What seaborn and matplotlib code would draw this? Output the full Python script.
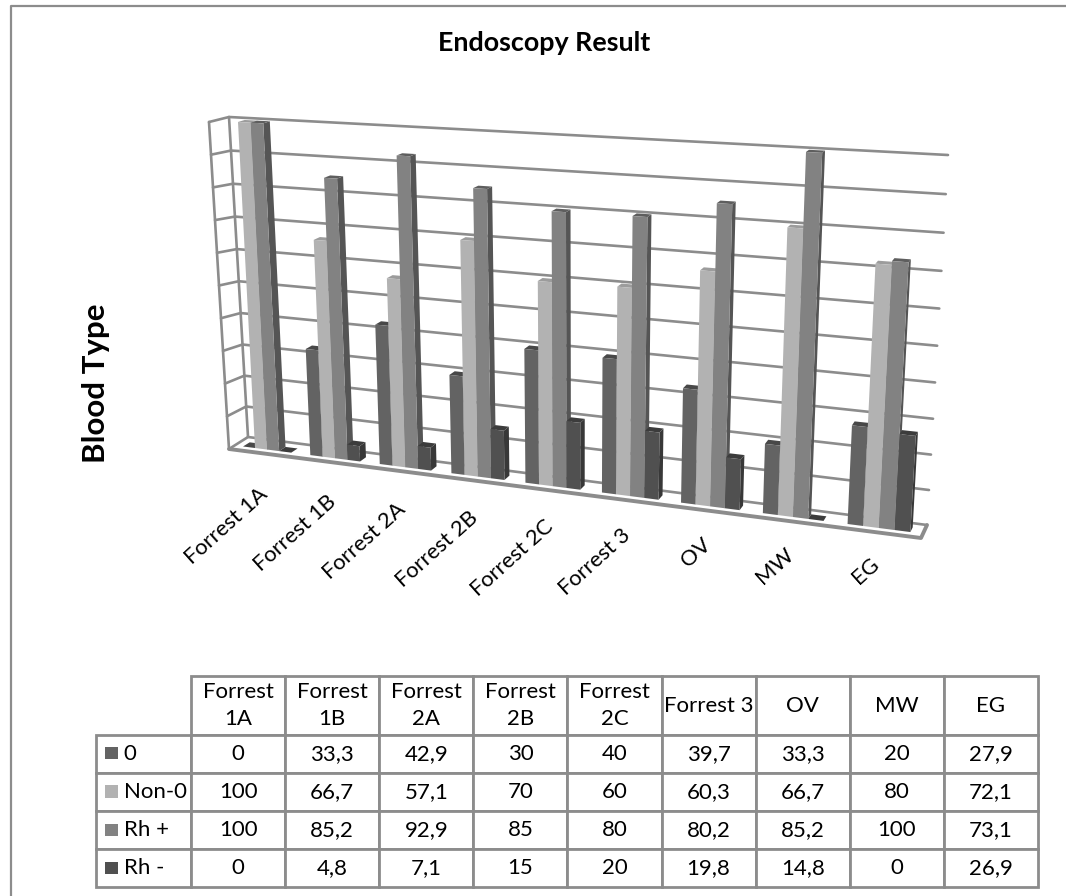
import numpy as np
import pandas as pd
import matplotlib
matplotlib.use("Agg")
import matplotlib.pyplot as plt
import seaborn as sns
from matplotlib.patches import Polygon, Rectangle
from matplotlib.transforms import Affine2D, Transform

W, H = 1066, 896

categories = ["Forrest 1A", "Forrest 1B", "Forrest 2A", "Forrest 2B", "Forrest 2C",
              "Forrest 3", "OV", "MW", "EG"]
column_heads = ["Forrest\n1A", "Forrest\n1B", "Forrest\n2A", "Forrest\n2B", "Forrest\n2C",
                "Forrest 3", "OV", "MW", "EG"]
series_names = ["0", "Non-0", "Rh +", "Rh -"]
type_0 = [0, 33.3, 42.9, 30, 40, 39.7, 33.3, 20, 27.9]
non_0 = [100, 66.7, 57.1, 70, 60, 60.3, 66.7, 80, 72.1]
rh_pos = [100, 85.2, 92.9, 85, 80, 80.2, 85.2, 100, 73.1]
rh_neg = [0, 4.8, 7.1, 15, 20, 19.8, 14.8, 0, 26.9]
series_values = [type_0, non_0, rh_pos, rh_neg]

front_colors = ["#636363", "#b2b2b2", "#828282", "#505050"]
side_colors = ["#484848", "#8e8e8e", "#555555", "#383838"]
top_colors = ["#484848", "#9c9c9c", "#5e5e5e", "#3c3c3c"]
line_color = "#8c8c8c"


def homography(src, dst):
    # solve the 3x3 matrix taking four (x, y) points onto four others
    rows = []
    for (x, y), (u, v) in zip(src, dst):
        rows.append([x, y, 1, 0, 0, 0, -u * x, -u * y, -u])
        rows.append([0, 0, 0, x, y, 1, -v * x, -v * y, -v])
    return np.linalg.svd(np.array(rows))[2][-1].reshape(3, 3)


class Perspective(Transform):
    input_dims = 2
    output_dims = 2

    def __init__(self, matrix):
        super().__init__()
        self.matrix = matrix

    def transform_non_affine(self, values):
        values = np.asarray(values, dtype=float)
        full = np.column_stack([values, np.ones(len(values))]) @ self.matrix.T
        return full[:, :2] / full[:, 2:]


# the bars stand on one plane, the gridlines on the back wall
bar_plane = Perspective(homography(
    [(-0.18, 100), (-0.18, 0), (7, 100), (7, 0)],
    [(238, 122), (255, 448), (806, 152), (793, 517)]))
back_wall = Perspective(homography(
    [(-0.5, 0), (-0.5, 100), (8.5, 100), (8.5, 0)],
    [(248, 437), (229, 117), (948, 155), (927, 525)]))
vanish = np.array([1264.0, -190.0])
bar_depth = 0.0065

sns.set_theme(style="white")
plt.rcParams["font.family"] = ["Lato", "DejaVu Sans"]

fig = plt.figure(figsize=(W / 100, H / 100), dpi=100)
to_fig = Affine2D().scale(1 / W, -1 / H).translate(0, 1) + fig.transFigure

ax = fig.add_axes([0, 0, 1, 1])
df = pd.DataFrame({
    "category": np.tile(categories, len(series_names)),
    "series": np.repeat(series_names, len(categories)),
    "value": np.concatenate(series_values),
})
sns.barplot(data=df, x="category", y="value", hue="series", order=categories,
            hue_order=series_names, palette=front_colors, saturation=1, width=0.72,
            errorbar=None, legend=False, ax=ax)
ax.set_xlim(-0.5, 8.5)
ax.set_ylim(0, 100)
value_ticks = np.arange(0, 101, 10)
ax.set_axis_off()


def stroke(points, lw=2.0, zorder=1):
    xs, ys = zip(*points)
    ax.plot(xs, ys, color=line_color, lw=lw, transform=to_fig, clip_on=False, zorder=zorder,
            solid_capstyle="round")


# outer chart border
stroke([(10.5, 896), (10.5, 6.5), (1066, 6.5)], lw=1.6)

# walls and floor
left_front = np.array([[229, 449], [209, 122]], dtype=float)
for tick in value_ticks:
    back_pts = back_wall.transform(np.array([[-0.5, tick], [8.5, tick]]))
    front_pt = left_front[0] + (left_front[1] - left_front[0]) * tick / 100
    stroke([front_pt, back_pts[0], back_pts[1]], lw=1.9)
stroke(left_front, lw=1.9)
stroke(back_wall.transform(np.array([[-0.5, 0], [-0.5, 100]])), lw=1.9)
stroke([(229, 449), (921, 538), (927, 525)], lw=2.8)

# bars: seaborn's rectangles are moved onto the plane, sides and tops added from them
for index, container in enumerate(ax.containers):
    for patch in container:
        x0, y0 = patch.get_x(), patch.get_y()
        x1, y1 = x0 + patch.get_width(), y0 + patch.get_height()
        order = 10 + x0
        corners = bar_plane.transform(np.array([[x0, y0], [x1, y0], [x1, y1], [x0, y1]]))
        pushed = corners + bar_depth * (vanish - corners)
        side = Polygon([corners[1], pushed[1], pushed[2], corners[2]], closed=True,
                       facecolor=side_colors[index], edgecolor="none", transform=to_fig,
                       clip_on=False, zorder=order)
        top = Polygon([corners[3], corners[2], pushed[2], pushed[3]], closed=True,
                      facecolor=top_colors[index], edgecolor="none", transform=to_fig,
                      clip_on=False, zorder=order)
        ax.add_patch(side)
        ax.add_patch(top)
        patch.set_transform(bar_plane + to_fig)
        patch.set_clip_on(False)
        patch.set_edgecolor("none")
        patch.set_zorder(order + 0.01)

# category labels under the bars, hung from the same plane
for i, name in enumerate(categories):
    px, py = bar_plane.transform(np.array([[i, 0.0]]))[0]
    ax.text(px - 9, py + 34 - i, name, rotation=42, ha="right", va="top",
            rotation_mode="anchor", fontsize=15.8, color="black", transform=to_fig, clip_on=False)

ax.text(544, 43, "Endoscopy Result", ha="center", va="center", fontsize=19.4, fontweight="bold",
        color="black", transform=to_fig)
ax.text(96, 383, "Blood Type", rotation=90, ha="center", va="center", fontsize=22.5,
        fontweight="bold", color="black", transform=to_fig)

# data table
cell_text = [[""] + column_heads]
for name, values in zip(series_names, series_values):
    cell_text.append([name] + [f"{v:g}".replace(".", ",") for v in values])

left, right, top_y, bottom = 96, 1038, 676, 887
table_ax = fig.add_axes([left / W, 1 - bottom / H, (right - left) / W, (bottom - top_y) / H])
table_ax.set_axis_off()
table = table_ax.table(cellText=cell_text, cellLoc="center", bbox=[0, 0, 1, 1],
                       colWidths=[95] + [94.1] * 9)
table.auto_set_font_size(False)
table.set_fontsize(16)
for (row, col), cell in table.get_celld().items():
    cell.set_edgecolor(line_color)
    cell.set_linewidth(2.0)
    cell.set_height(59 if row == 0 else 38)
    cell.get_text().set_color("black")
    cell.get_text().set_linespacing(1.45)
    if col == 0:
        cell.PAD = 0.29
        cell.get_text().set_ha("left")
        cell._loc = "left"
table[(0, 0)].set_visible(False)

# legend keys in the row heads, on top of the table cells
for row, color in enumerate(front_colors):
    table_ax.add_patch(Rectangle((105, 747 + row * 38.3), 12.5, 12.5, facecolor=color,
                                 edgecolor="none", transform=to_fig, clip_on=False, zorder=20))

fig.savefig("out.png", dpi=100, facecolor="white")
